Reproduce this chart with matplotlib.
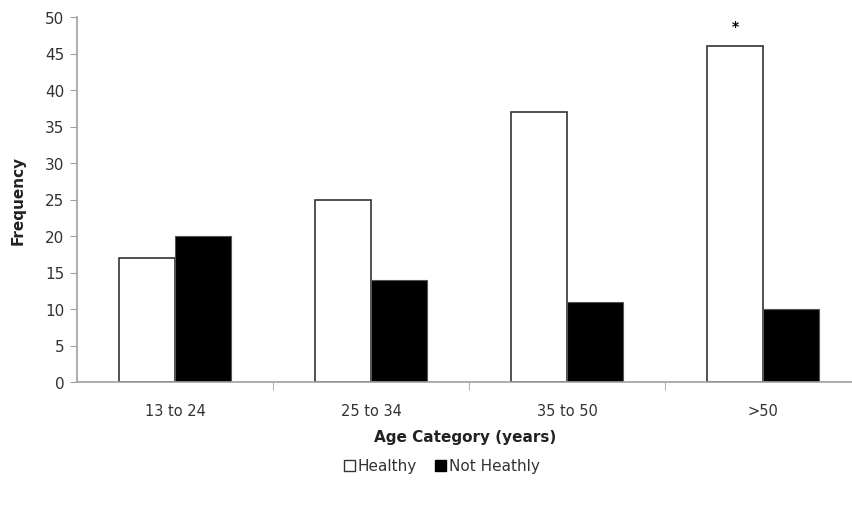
import matplotlib
matplotlib.use("Agg")
import matplotlib.pyplot as plt
import numpy as np
from matplotlib.patches import Patch

categories = ["13 to 24", "25 to 34", "35 to 50", ">50"]
healthy = [17, 25, 37, 46]
not_healthy = [20, 14, 11, 10]
series_names = ["Healthy", "Not Heathly"]
y_ticks = list(range(0, 51, 5))

plt.rcParams['font.family'] = ['DejaVu Sans']
fig = plt.figure(figsize=(8.53, 5.06), dpi=100)
ax = fig.add_axes([77/853, 1-383/506, 1-77/853, (383-18)/506])

x = np.arange(len(categories))
w = 1/3.5
ax.bar(x - w/2, healthy, w, color="white", edgecolor="#333333", linewidth=1.2, label=series_names[0])
ax.bar(x + w/2, not_healthy, w, color="black", edgecolor="#555555", linewidth=0.8, label=series_names[1])

ax.text(x[3] - w/2, 47.8, "*", ha="center", va="bottom", fontsize=10, fontweight="bold")

ax.set_xlim(-0.5, -0.5 + 776/196)
ax.set_ylim(0, 50)
ax.set_yticks(y_ticks)
ax.set_xticks(x)
ax.set_xticklabels(categories)
ax.tick_params(axis="x", length=0, pad=15, labelsize=10.5, labelcolor="#333333")
ax.set_xticks(np.arange(len(categories) - 1) + 0.5, minor=True)
ax.tick_params(axis="x", which="minor", length=6, color="#a0a0a0", direction="out")
ax.tick_params(axis="y", length=5, color="#a0a0a0", labelsize=11, labelcolor="#333333", pad=4)

for s in ["top", "right"]:
    ax.spines[s].set_visible(False)
for s in ["left", "bottom"]:
    ax.spines[s].set_color("#a0a0a0")
    ax.spines[s].set_linewidth(1.2)

ax.set_ylabel("Frequency", fontsize=11, fontweight="bold", color="#222222", labelpad=14)
ax.set_xlabel("Age Category (years)", fontsize=11, fontweight="bold", color="#222222", labelpad=8)

handles = [Patch(facecolor="white", edgecolor="#333333", linewidth=1.0),
           Patch(facecolor="black", edgecolor="black")]
fig.legend(handles, series_names, loc="center", bbox_to_anchor=(442/853, 1-467/506),
           ncol=2, frameon=False, fontsize=11, handlelength=0.7, handleheight=0.7,
           handletextpad=0.2, columnspacing=1.2, labelcolor="#333333")

fig.savefig("out.png", dpi=100)
